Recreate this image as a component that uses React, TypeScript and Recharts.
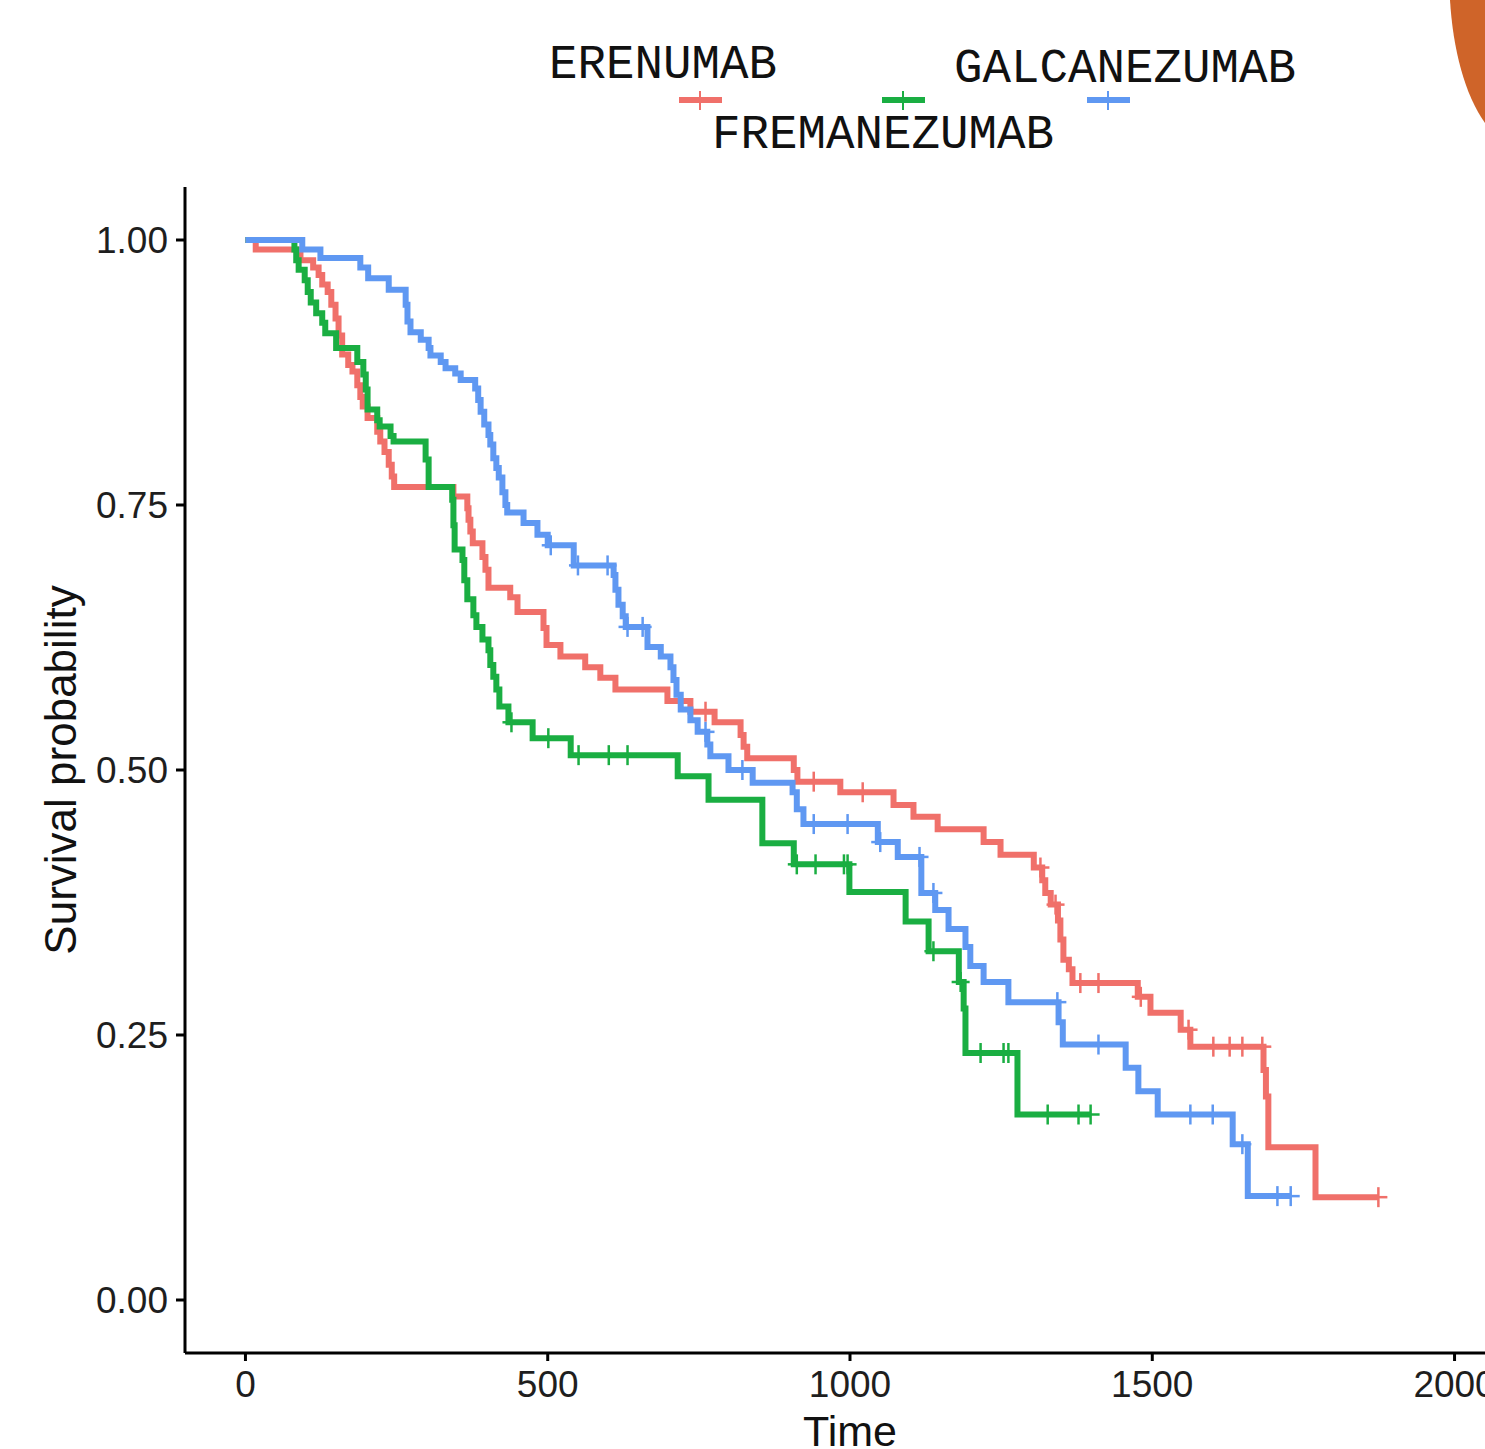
import { LineChart, Line, XAxis, YAxis } from "recharts";

const FONT = "'Liberation Sans', Arial, Helvetica, sans-serif";
const MONO = "'Courier New', 'Liberation Mono', monospace";

const X_TICKS = [0, 500, 1000, 1500, 2000];
const Y_TICKS = [0, 0.25, 0.5, 0.75, 1];

// t = time, s = survival, c = 1 when the point is a censor mark
const ERENUMAB_T = [0, 17, 91, 112, 121, 127, 136, 142, 149, 154, 160, 170, 177, 185, 190, 194, 202, 218, 223, 230, 237, 242, 246, 344, 367, 369, 372, 376, 392, 397, 402, 438, 450, 493, 498, 521, 562, 587, 612, 698, 736, 761, 776, 819, 824, 830, 907, 913, 940, 984, 1021, 1072, 1105, 1145, 1221, 1249, 1304, 1315, 1318, 1323, 1332, 1340, 1344, 1348, 1353, 1362, 1368, 1381, 1411, 1476, 1481, 1497, 1547, 1560, 1563, 1601, 1628, 1649, 1682, 1684, 1688, 1692, 1770, 1874];
const ERENUMAB_S = [1, 0.991, 0.981, 0.974, 0.967, 0.958, 0.951, 0.939, 0.926, 0.91, 0.892, 0.882, 0.876, 0.863, 0.852, 0.843, 0.832, 0.819, 0.81, 0.8, 0.788, 0.777, 0.767, 0.758, 0.747, 0.736, 0.725, 0.714, 0.701, 0.689, 0.672, 0.663, 0.649, 0.634, 0.618, 0.607, 0.597, 0.587, 0.576, 0.565, 0.555, 0.555, 0.545, 0.533, 0.522, 0.511, 0.5, 0.489, 0.489, 0.479, 0.479, 0.467, 0.456, 0.444, 0.432, 0.42, 0.408, 0.408, 0.396, 0.384, 0.373, 0.373, 0.358, 0.34, 0.321, 0.312, 0.299, 0.299, 0.299, 0.286, 0.286, 0.271, 0.255, 0.255, 0.239, 0.239, 0.239, 0.239, 0.239, 0.217, 0.192, 0.144, 0.097, 0.097];
const ERENUMAB_C = [0, 0, 0, 0, 0, 0, 0, 0, 0, 0, 0, 0, 0, 0, 0, 0, 0, 0, 0, 0, 0, 0, 0, 0, 0, 0, 0, 0, 0, 0, 0, 0, 0, 0, 0, 0, 0, 0, 0, 0, 0, 1, 0, 0, 0, 0, 0, 0, 1, 0, 1, 0, 0, 0, 0, 0, 0, 1, 0, 0, 0, 1, 0, 0, 0, 0, 0, 1, 1, 0, 1, 0, 0, 1, 0, 1, 1, 1, 1, 0, 0, 0, 0, 1];

const FREMANEZUMAB_T = [0, 81, 84, 88, 98, 103, 108, 117, 127, 132, 150, 185, 195, 199, 202, 218, 222, 240, 245, 298, 303, 342, 344, 346, 359, 362, 367, 377, 382, 392, 402, 405, 410, 415, 420, 435, 440, 475, 501, 538, 551, 601, 632, 715, 766, 855, 907, 912, 943, 990, 996, 999, 1092, 1130, 1138, 1180, 1183, 1188, 1191, 1216, 1254, 1262, 1277, 1327, 1378, 1398];
const FREMANEZUMAB_S = [1, 0.991, 0.981, 0.972, 0.962, 0.951, 0.941, 0.931, 0.922, 0.912, 0.898, 0.885, 0.873, 0.859, 0.84, 0.83, 0.824, 0.815, 0.81, 0.793, 0.767, 0.755, 0.731, 0.708, 0.698, 0.679, 0.661, 0.646, 0.635, 0.623, 0.613, 0.599, 0.588, 0.576, 0.56, 0.545, 0.545, 0.53, 0.53, 0.514, 0.514, 0.514, 0.514, 0.494, 0.472, 0.431, 0.411, 0.411, 0.411, 0.411, 0.411, 0.385, 0.357, 0.329, 0.329, 0.3, 0.3, 0.275, 0.233, 0.233, 0.233, 0.233, 0.175, 0.175, 0.175, 0.175];
const FREMANEZUMAB_C = [0, 0, 0, 0, 0, 0, 0, 0, 0, 0, 0, 0, 0, 0, 0, 0, 0, 0, 0, 0, 0, 0, 0, 0, 0, 0, 0, 0, 0, 0, 0, 0, 0, 0, 0, 0, 1, 0, 1, 0, 1, 1, 1, 0, 0, 0, 0, 1, 1, 1, 1, 0, 0, 0, 1, 0, 1, 0, 0, 1, 1, 1, 0, 1, 1, 1];

const GALCANEZUMAB_T = [0, 94, 124, 190, 203, 237, 265, 268, 273, 290, 303, 306, 323, 331, 347, 356, 380, 385, 389, 395, 402, 405, 410, 415, 419, 425, 430, 433, 460, 483, 500, 505, 543, 550, 599, 609, 612, 617, 624, 629, 632, 657, 665, 687, 703, 708, 713, 720, 736, 748, 761, 764, 769, 799, 822, 839, 905, 912, 923, 940, 996, 1046, 1050, 1079, 1115, 1118, 1138, 1141, 1163, 1191, 1199, 1221, 1262, 1343, 1345, 1352, 1411, 1456, 1477, 1509, 1563, 1600, 1633, 1649, 1658, 1707, 1729];
const GALCANEZUMAB_S = [1, 0.991, 0.983, 0.974, 0.964, 0.953, 0.939, 0.923, 0.913, 0.906, 0.898, 0.891, 0.885, 0.879, 0.874, 0.868, 0.86, 0.849, 0.838, 0.826, 0.816, 0.807, 0.794, 0.785, 0.776, 0.762, 0.75, 0.743, 0.733, 0.722, 0.712, 0.712, 0.693, 0.693, 0.693, 0.684, 0.67, 0.656, 0.645, 0.635, 0.635, 0.635, 0.616, 0.607, 0.597, 0.585, 0.571, 0.557, 0.547, 0.536, 0.536, 0.524, 0.513, 0.5, 0.5, 0.488, 0.479, 0.463, 0.449, 0.449, 0.449, 0.432, 0.432, 0.418, 0.418, 0.384, 0.384, 0.368, 0.35, 0.333, 0.315, 0.3, 0.281, 0.281, 0.262, 0.241, 0.241, 0.219, 0.197, 0.175, 0.175, 0.175, 0.147, 0.147, 0.098, 0.098, 0.098];
const GALCANEZUMAB_C = [0, 0, 0, 0, 0, 0, 0, 0, 0, 0, 0, 0, 0, 0, 0, 0, 0, 0, 0, 0, 0, 0, 0, 0, 0, 0, 0, 0, 0, 0, 0, 1, 0, 1, 1, 0, 0, 0, 0, 0, 1, 1, 0, 0, 0, 0, 0, 0, 0, 0, 1, 0, 0, 0, 1, 0, 0, 0, 0, 1, 1, 0, 1, 0, 1, 0, 1, 0, 0, 0, 0, 0, 0, 1, 0, 0, 1, 0, 0, 0, 1, 1, 0, 1, 0, 1, 1];

const RED = "#F0706A";
const GREEN = "#1AAE42";
const BLUE = "#5F98F2";

const rows = (t: number[], s: number[], c: number[]) =>
  t.map((x, i) => ({ t: x, s: s[i], c: c[i] }));

const erenumab = rows(ERENUMAB_T, ERENUMAB_S, ERENUMAB_C);
const fremanezumab = rows(FREMANEZUMAB_T, FREMANEZUMAB_S, FREMANEZUMAB_C);
const galcanezumab = rows(GALCANEZUMAB_T, GALCANEZUMAB_S, GALCANEZUMAB_C);

function censor(color: string) {
  return (props: any) => {
    const { cx, cy, payload, index } = props;
    if (!payload || !payload.c) return <g key={index} />;
    return (
      <g key={index} stroke={color} strokeWidth={2.5}>
        <line x1={cx - 9} x2={cx + 9} y1={cy} y2={cy} />
        <line x1={cx} x2={cx} y1={cy - 10} y2={cy + 10} />
      </g>
    );
  };
}

function LegendKey({ x, color }: { x: number; color: string }) {
  return (
    <g stroke={color}>
      <line x1={x} x2={x + 43} y1={100} y2={100} strokeWidth={6} />
      <line x1={x + 21} x2={x + 21} y1={91} y2={110} strokeWidth={2} />
    </g>
  );
}

export default function App() {
  return (
    <div
      style={{
        position: "absolute",
        left: 0,
        top: 0,
        width: 1485,
        height: 1449,
        overflow: "hidden",
        background: "#fff",
      }}
    >
      <svg
        width={1485}
        height={170}
        style={{ position: "absolute", left: 0, top: 0 }}
      >
        <path d="M1450 0 C1453 50 1465 95 1485 123 L1485 0 Z" fill="#CF6429" />
        <g fontFamily={MONO} fontSize={47.5} fill="#111">
          <text x={549} y={78}>ERENUMAB</text>
          <text x={954} y={82}>GALCANEZUMAB</text>
          <text x={712} y={148}>FREMANEZUMAB</text>
        </g>
        <LegendKey x={679} color={RED} />
        <LegendKey x={882} color={GREEN} />
        <LegendKey x={1087} color={BLUE} />
      </svg>
      <div style={{ position: "absolute", left: 0, top: 0 }}>
        <LineChart
          width={1560}
          height={1449}
          margin={{ top: 187, right: 45, bottom: 36, left: 105 }}
        >
          <XAxis
            type="number"
            dataKey="t"
            domain={[-100, 2100]}
            ticks={X_TICKS}
            allowDataOverflow
            height={60}
            axisLine={{ stroke: "#000", strokeWidth: 3 }}
            tickLine={{ stroke: "#000", strokeWidth: 3 }}
            tickSize={8}
            tickMargin={10}
            tick={{ fontSize: 37, fill: "#1e1e1e", fontFamily: FONT }}
            label={{
              value: "Time",
              position: "bottom",
              offset: 2,
              fontSize: 43,
              fill: "#111",
              fontFamily: FONT,
            }}
          />
          <YAxis
            type="number"
            dataKey="s"
            domain={[-0.05, 1.05]}
            ticks={Y_TICKS}
            allowDataOverflow
            width={80}
            axisLine={{ stroke: "#000", strokeWidth: 3 }}
            tickLine={{ stroke: "#000", strokeWidth: 3 }}
            tickSize={9}
            tickMargin={8}
            tickFormatter={(v: number) => v.toFixed(2)}
            tick={{ fontSize: 37, fill: "#1e1e1e", fontFamily: FONT }}
            label={{
              content: () => (
                <text
                  x={60}
                  y={770}
                  transform="rotate(-90 60 770)"
                  textAnchor="middle"
                  dominantBaseline="central"
                  fontSize={44}
                  fontFamily={FONT}
                  fill="#111"
                >
                  Survival probability
                </text>
              ),
            }}
          />
          <Line
            data={erenumab}
            dataKey="s"
            type="stepAfter"
            stroke={RED}
            strokeWidth={6}
            strokeLinejoin="miter"
            dot={censor(RED)}
            activeDot={false}
            isAnimationActive={false}
          />
          <Line
            data={fremanezumab}
            dataKey="s"
            type="stepAfter"
            stroke={GREEN}
            strokeWidth={6}
            strokeLinejoin="miter"
            dot={censor(GREEN)}
            activeDot={false}
            isAnimationActive={false}
          />
          <Line
            data={galcanezumab}
            dataKey="s"
            type="stepAfter"
            stroke={BLUE}
            strokeWidth={6}
            strokeLinejoin="miter"
            dot={censor(BLUE)}
            activeDot={false}
            isAnimationActive={false}
          />
        </LineChart>
      </div>
    </div>
  );
}
